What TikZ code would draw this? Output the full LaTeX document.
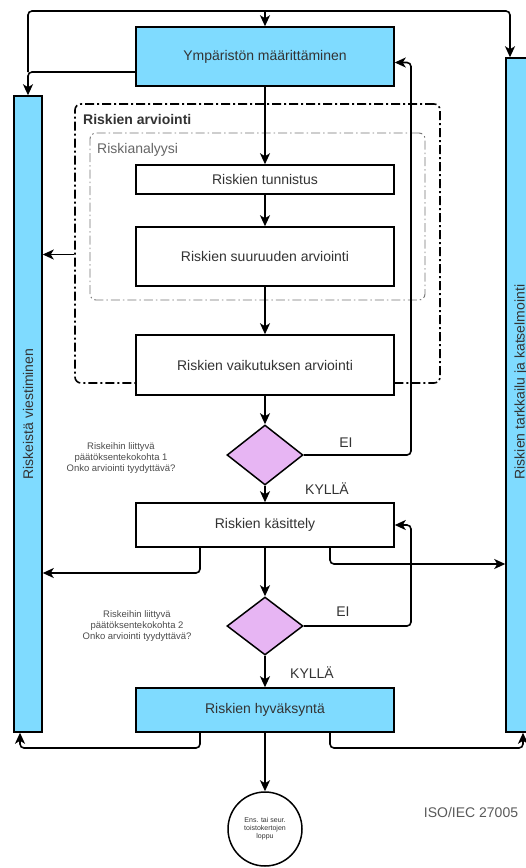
\documentclass[tikz,border=0pt]{standalone}
\usepackage{fontspec}
\setmainfont{Liberation Sans}
\usetikzlibrary{shapes.geometric, arrows.meta}
\definecolor{skyfill}{RGB}{127,219,255}
\definecolor{lilac}{RGB}{231,181,243}
\definecolor{txt}{RGB}{51,51,51}

\begin{document}
\begin{tikzpicture}[x=1pt, y=-1pt,
    proc/.style={draw, fill=white, line width=1.5pt, minimum width=258pt, inner sep=0pt, text=txt, font=\fontsize{14}{16}\selectfont},
    mainproc/.style={proc, fill=skyfill},
    bar/.style={draw, line width=1.5pt, fill=skyfill, minimum width=28pt, inner sep=0pt},
    choice/.style={diamond, draw, line width=1.5pt, fill=lilac, minimum width=76pt, minimum height=60pt, inner sep=0pt},
    group/.style={draw, rounded corners=6pt, line width=1.6pt, dash pattern=on 9pt off 3pt on 2pt off 3pt, inner sep=0pt},
    subgroup/.style={draw=black!55, rounded corners=6pt, line width=0.9pt, dash pattern=on 9pt off 3pt on 1.5pt off 3pt, inner sep=0pt},
    lbl/.style={text=txt, font=\fontsize{14}{16}\selectfont, inner sep=0pt},
    note/.style={text=black!70, align=center, font=\fontsize{9.5}{11}\selectfont, inner sep=0pt},
    arr/.style={-{Stealth[length=11pt, width=10pt, inset=3pt]}, line width=1.6pt, rounded corners=4pt},
    line/.style={line width=1.6pt, rounded corners=4pt}]
    \useasboundingbox (0,0) rectangle (526,868);

    % groups
    \node[group, minimum width=365pt, minimum height=279pt] (3) at (257.5,243.5) {};
    \node[subgroup, minimum width=335pt, minimum height=167pt] (4) at (257.5,216.5) {};
    \node[lbl, font=\bfseries\fontsize{14}{16}\selectfont, anchor=west] (13) at (83,119) {Riskien arviointi};
    \node[lbl, text=black!60, anchor=west] (14) at (97,150) {Riskianalyysi};

    % process
    \node[mainproc, minimum height=59pt] (0) at (265,56.5) {Ympäristön määrittäminen};
    \node[bar, minimum height=636pt] (1) at (28,414) {};
    \node[bar, minimum width=32pt, minimum height=674pt] (2) at (522,395) {};
    \node[lbl, rotate=90] (15) at (1.center) {Riskeistä viestiminen};
    \node[lbl, rotate=90] (16) at (521,382) {Riskien tarkkailu ja katselmointi};
    \node[proc, minimum height=29pt] (5) at (265,179.5) {Riskien tunnistus};
    \node[proc, minimum height=59pt] (6) at (265,256.5) {Riskien suuruuden arviointi};
    \node[proc, minimum height=60pt] (7) at (265,365) {Riskien vaikutuksen arviointi};
    \node[choice] (8) at (265,455) {};
    \node[proc, minimum height=44pt] (9) at (265,525) {Riskien käsittely};
    \node[choice, minimum height=58pt] (10) at (265,626) {};
    \node[mainproc, minimum height=44pt] (11) at (265,710) {Riskien hyväksyntä};
    \node[circle, draw, fill=white, line width=1.5pt, minimum size=74pt, inner sep=0pt, align=center, text=black!80, font=\fontsize{7}{8}\selectfont] (12) at (265,829) {Ens. tai seur.\\toistokertojen\\loppu};

    % texts
    \node[note] (17) at (121,458) {Riskeihin liittyvä\\päätöksentekokohta 1\\Onko arviointi tyydyttävä?};
    \node[note] (18) at (137,626) {Riskeihin liittyvä\\päätöksentekokohta 2\\Onko arviointi tyydyttävä?};
    \node[lbl] (19) at (346,443) {EI};
    \node[lbl] (20) at (327,489) {KYLLÄ};
    \node[lbl] (21) at (343,612) {EI};
    \node[lbl] (22) at (312,673) {KYLLÄ};
    \node[lbl, text=black!65] (23) at (471,812) {ISO/IEC 27005};

    % helper points
    \coordinate (t) at (265,11);
    \coordinate (l) at (28,72);
    \coordinate (v) at (411,0);
    \coordinate (yl) at (0,573);
    \coordinate (yr) at (0,564);
    \coordinate (bl) at (20,748);
    \coordinate (br) at (523,748);
    \coordinate (o) at ([yshift=-11pt]3.west);

    % connectors
    \draw[line] (t) -| (l);
    \draw[arr] ([yshift=-15.5pt]0.west) -| (1.north);
    \draw[arr] (t) -- (0.north);
    \draw[arr] (t) -| ([xshift=-12pt]2.north);
    \draw[arr] (0) -- (5);
    \draw[arr] (5) -- (6);
    \draw[arr] (6) -- (7);
    \draw[arr] (7) -- (8);
    \draw[arr] (8) -- (9);
    \draw[arr] (9) -- (10);
    \draw[arr] (10) -- (11);
    \draw[arr] (11) -- (12);
    \draw[arr] (8.east) -- (8.east -| v) |- ([yshift=-6pt]0.east);
    \draw[arr] (10.east) -- (10.east -| v) |- (9.east);
    \draw[arr] (o) -- (o -| 1.east);
    \draw[arr] ([xshift=-65pt]9.south) |- (1.east |- yl);
    \draw[arr] ([xshift=65pt]9.south) |- (2.west |- yr);
    \draw[arr] ([xshift=-65pt]11.south) |- (bl) -- (bl |- 1.south);
    \draw[arr] ([xshift=65pt]11.south) |- (br) -- (br |- 2.south);
\end{tikzpicture}
\end{document}
